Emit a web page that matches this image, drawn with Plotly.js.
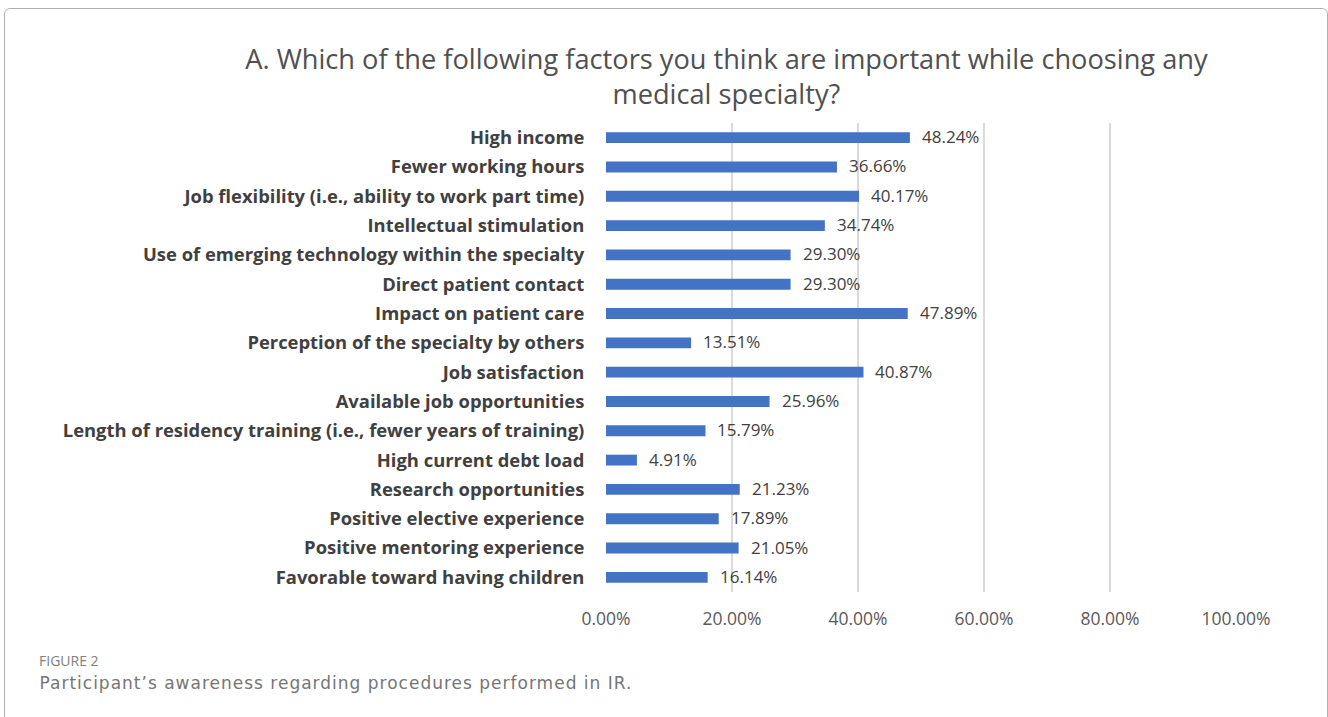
<!DOCTYPE html>
<html>
<head>
<meta charset="utf-8">
<script src="https://cdn.plot.ly/plotly-3.0.1.min.js"></script>
<style>
  html, body { margin: 0; padding: 0; background: #fff; }
  #wrap { position: relative; width: 1328px; height: 717px; overflow: hidden; }
  #chart { position: absolute; left: 0; top: 0; width: 1328px; height: 717px; }
  #frame { position: absolute; left: 4px; top: 8px; width: 1322px; height: 730px;
           border: 1.5px solid #b0b0b0; border-radius: 6px; pointer-events: none; }
  g.annotation[data-index="17"] text { letter-spacing: 1px; }
</style>
</head>
<body>
<div id="wrap">
  <div id="chart"></div>
  <div id="frame"></div>
</div>
<script>
const categories = [
  "High income",
  "Fewer working hours",
  "Job flexibility (i.e., ability to work part time)",
  "Intellectual stimulation",
  "Use of emerging technology within the specialty",
  "Direct patient contact",
  "Impact on patient care",
  "Perception of the specialty by others",
  "Job satisfaction",
  "Available job opportunities",
  "Length of residency training (i.e., fewer years of training)",
  "High current debt load",
  "Research opportunities",
  "Positive elective experience",
  "Positive mentoring experience",
  "Favorable toward having children"
];
const values = [48.24, 36.66, 40.17, 34.74, 29.30, 29.30, 47.89, 13.51, 40.87, 25.96, 15.79, 4.91, 21.23, 17.89, 21.05, 16.14];
const tickValues = [0, 20, 40, 60, 80, 100];
const tickLabels = ["0.00%", "20.00%", "40.00%", "60.00%", "80.00%", "100.00%"];
const titleText = "A. Which of the following factors you think are important while choosing any<br>medical specialty?";
const captionHead = "FIGURE 2";
const captionText = "Participant\u2019s awareness regarding procedures performed in IR.";

const FONT = "'Open Sans', Lato, sans-serif";

const trace = {
  type: "bar",
  orientation: "h",
  y: categories,
  x: values,
  marker: { color: "#4472C4" },
  width: 0.37,
  hoverinfo: "x+y",
  cliponaxis: false
};

const annotations = values.map((v, i) => ({
  x: v, y: categories[i], xref: "x", yref: "y",
  text: v.toFixed(2) + "%",
  showarrow: false, xanchor: "left", yanchor: "middle",
  xshift: 10, yshift: 1,
  font: { family: FONT, size: 17, color: "#404040" }
}));

annotations.push({
  xref: "paper", yref: "paper", x: -0.903, y: -0.145,
  xanchor: "left", yanchor: "middle", showarrow: false,
  text: captionHead,
  font: { family: FONT, size: 14, color: "#808080" }
});
annotations.push({
  xref: "paper", yref: "paper", x: -0.903, y: -0.194,
  xanchor: "left", yanchor: "middle", showarrow: false,
  xshift: 31,
  text: captionText,
  font: { family: "'DejaVu Sans', sans-serif", size: 17, color: "#757575" }
});

const layout = {
  width: 1328, height: 717,
  margin: { l: 606, r: 92, t: 123, b: 125, pad: 0 },
  paper_bgcolor: "#ffffff",
  plot_bgcolor: "#ffffff",
  showlegend: false,
  title: {
    text: titleText,
    x: 0.547, xanchor: "center",
    y: 0.904, yanchor: "top",
    font: { family: FONT, size: 27.2, color: "#505050" }
  },
  xaxis: {
    range: [0, 100],
    tickvals: tickValues,
    ticktext: tickLabels,
    showgrid: true,
    gridcolor: "#d9d9d9",
    gridwidth: 1.5,
    zeroline: false,
    showline: false,
    ticks: "outside",
    ticklen: 11,
    tickcolor: "rgba(0,0,0,0)",
    tickfont: { family: FONT, size: 17.5, color: "#595959" },
    fixedrange: true
  },
  yaxis: {
    type: "category",
    autorange: "reversed",
    showgrid: false,
    zeroline: false,
    showline: false,
    ticks: "outside",
    ticklen: 17,
    tickcolor: "rgba(0,0,0,0)",
    tickfont: { family: FONT, size: 18.4, color: "#404040", weight: "bold" },
    fixedrange: true
  },
  annotations: annotations
};

Plotly.newPlot("chart", [trace], layout, { displayModeBar: false, staticPlot: true });
</script>
</body>
</html>
